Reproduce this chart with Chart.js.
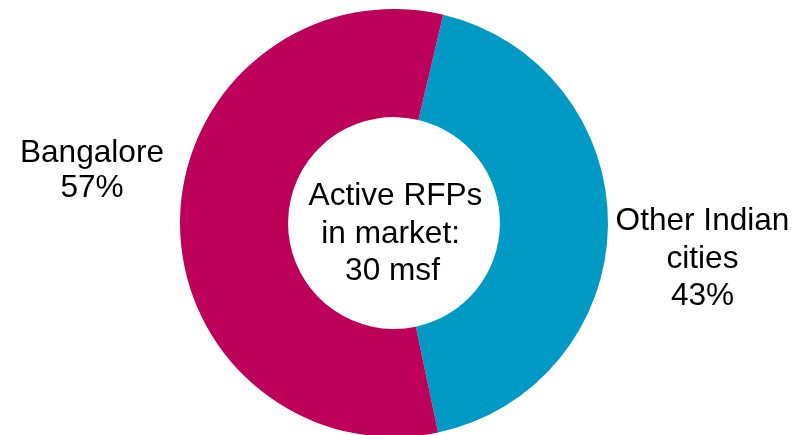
<!DOCTYPE html>
<html>
<head>
<meta charset="utf-8">
<script src="https://cdn.jsdelivr.net/npm/chart.js@4.4.1/dist/chart.umd.min.js"></script>
<style>
  html, body { margin: 0; padding: 0; background: #ffffff; overflow: hidden; }
  #wrap { position: relative; width: 807px; height: 446px; }
</style>
</head>
<body>
<div id="wrap"><canvas id="chart" width="807" height="446"></canvas></div>
<script>
// Share of active RFPs by location
const categories = ['Other Indian cities', 'Bangalore'];
const shares = [43, 57];
const segmentColors = ['#009AC5', '#BD0059'];
const centerLines = ['Active RFPs', 'in market: ', '30 msf'];

const FONT = '"Liberation Sans", Arial, Helvetica, sans-serif';

// Text labels drawn beside each ring segment and in the hole
const labelPlugin = {
  id: 'ringLabels',
  afterDraw(chart) {
    const arc = chart.getDatasetMeta(0).data[0];
    if (!arc) return;
    const cx = arc.x, cy = arc.y;
    const ctx = chart.ctx;
    ctx.save();
    ctx.fillStyle = '#000000';
    ctx.font = '31.6px ' + FONT;
    ctx.textAlign = 'center';
    ctx.textBaseline = 'alphabetic';

    // centre text
    const centerX = [cx + 1.5, cx + 1, cx - 1.5];
    centerLines.forEach((t, i) => {
      ctx.fillText(t, centerX[i], cy - 18 + i * 37.5);
    });

    // Bangalore (left)
    ctx.fillText(categories[1], cx - 302, cy - 61);
    ctx.fillText(shares[1] + '%', cx - 302, cy - 26);

    // Other Indian cities (right)
    ctx.fillText('Other Indian', cx + 308.5, cy + 7);
    ctx.fillText('cities', cx + 308.5, cy + 44.5);
    ctx.fillText(shares[0] + '%', cx + 308.5, cy + 82);
    ctx.restore();
  }
};

new Chart(document.getElementById('chart'), {
  type: 'doughnut',
  data: {
    labels: categories,
    datasets: [{
      data: shares,
      backgroundColor: segmentColors,
      borderWidth: 0,
      hoverOffset: 0,
      offset: 0
    }]
  },
  options: {
    responsive: false,
    animation: false,
    rotation: 13.3,
    cutout: '49.5%',
    layout: { padding: { top: 9, bottom: 9, left: 0, right: 19 } },
    plugins: {
      legend: { display: false },
      tooltip: { enabled: false }
    },
    events: []
  },
  plugins: [labelPlugin]
});
</script>
</body>
</html>
